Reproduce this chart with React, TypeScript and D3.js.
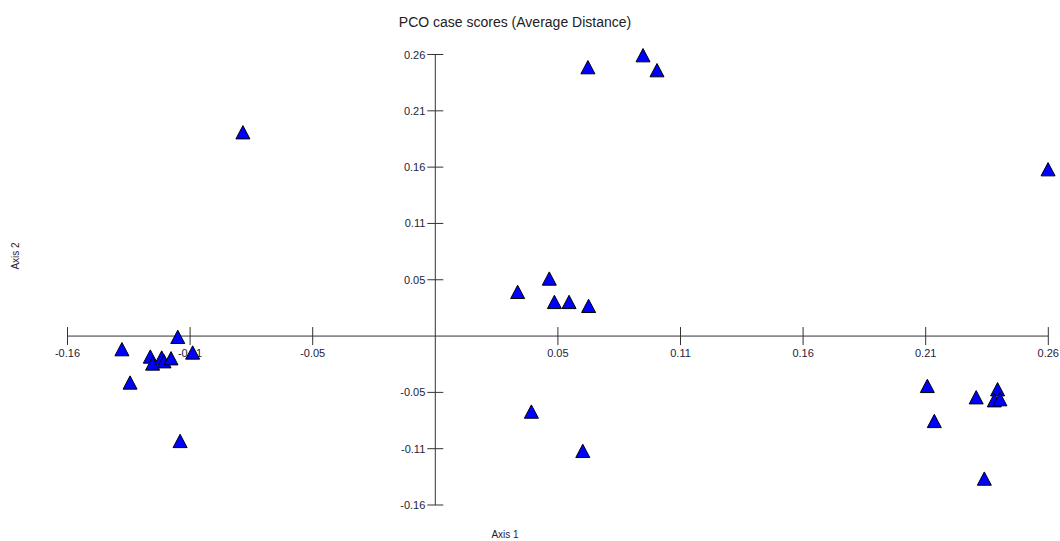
import React from "react";
import * as d3 from "d3";

// PCO case scores on the first two principal coordinate axes
const axis1Scores = [
  -0.0827, 0.0656, 0.0893, 0.0953, 0.2634,
  0.0354, 0.049, 0.0512, 0.0575, 0.0659, 0.0413, 0.0634,
  -0.1347, -0.1107, -0.1043, -0.1225, -0.1215, -0.1176, -0.1166, -0.1136, -0.1312, -0.1097,
  0.2115, 0.2145, 0.2325, 0.2417, 0.2403, 0.2427, 0.236,
];
const axis2Scores = [
  0.1906, 0.2515, 0.2627, 0.2487, 0.156,
  0.0412, 0.0537, 0.0318, 0.0318, 0.0281, -0.0708, -0.1076,
  -0.0124, -0.0009, -0.0155, -0.0193, -0.0258, -0.0202, -0.0237, -0.0209, -0.0436, -0.0983,
  -0.0468, -0.0796, -0.0574, -0.0499, -0.0602, -0.0592, -0.1335,
];

// Tick step and tick indices along both axes (the origin is not labelled)
const tickStep = 0.0527;
const tickIndices = [-3, -2, -1, 1, 2, 3, 4, 5];

const W = 1060;
const H = 541;

export default function App() {
  const x = d3.scaleLinear().domain([-3 * tickStep, 5 * tickStep]).range([67.5, 1048.3]);
  const y = d3.scaleLinear().domain([-3 * tickStep, 5 * tickStep]).range([505, 54.5]);
  // plain hyphen-minus, two decimals
  const fmt = (v: number) => v.toFixed(2);
  const x0 = x(0);
  const y0 = y(0);
  const axisColor = "#333";
  const textColor = "#1c1c3a";
  const font = "'Liberation Sans', Arial, sans-serif";
  const tri = (cx: number, cy: number) =>
    `M${cx},${cy - 6.8} L${cx + 7},${cy + 6.5} L${cx - 7},${cy + 6.5} Z`;

  return (
    <svg
      width={W}
      height={H}
      style={{ position: "absolute", left: 0, top: 0, background: "#fff" }}
      fontFamily={font}
    >
      <text x={515} y={27} textAnchor="middle" fontSize={14} fill="#222">
        PCO case scores (Average Distance)
      </text>

      {/* horizontal axis */}
      <line x1={x(-3 * tickStep)} x2={x(5 * tickStep)} y1={y0} y2={y0} stroke={axisColor} strokeWidth={1} />
      {tickIndices.map((k) => (
        <g key={"xt" + k}>
          <line x1={x(k * tickStep)} x2={x(k * tickStep)} y1={y0 - 9} y2={y0 + 9} stroke={axisColor} />
          <text x={x(k * tickStep)} y={y0 + 21} textAnchor="middle" fontSize={11} fill={textColor}>
            {fmt(k * tickStep)}
          </text>
        </g>
      ))}

      {/* vertical axis */}
      <line x1={x0} x2={x0} y1={y(5 * tickStep)} y2={y(-3 * tickStep)} stroke={axisColor} strokeWidth={1} />
      {tickIndices.map((k) => (
        <g key={"yt" + k}>
          <line x1={x0 - 8} x2={x0 + 8} y1={y(k * tickStep)} y2={y(k * tickStep)} stroke={axisColor} />
          <text x={x0 - 10} y={y(k * tickStep) + 4} textAnchor="end" fontSize={11} fill={textColor}>
            {fmt(k * tickStep)}
          </text>
        </g>
      ))}

      <text x={505} y={538} textAnchor="middle" fontSize={10} fill={textColor}>
        Axis 1
      </text>
      <text
        transform={`translate(19,256) rotate(-90)`}
        textAnchor="middle"
        fontSize={10}
        fill={textColor}
      >
        Axis 2
      </text>

      {axis1Scores.map((v, i) => (
        <path
          key={i}
          d={tri(x(v), y(axis2Scores[i]))}
          fill="#0000ff"
          stroke="#000"
          strokeWidth={1}
          strokeLinejoin="miter"
        />
      ))}
    </svg>
  );
}
